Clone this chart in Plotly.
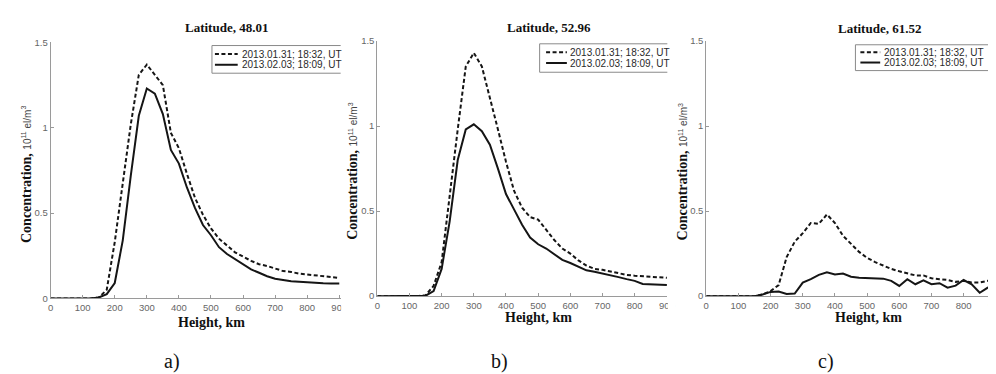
import plotly.graph_objects as go

# ---------------- data ----------------
heights = [0, 25, 50, 75, 100, 125, 150, 175, 200, 225, 250, 275, 300, 325, 350, 375,
           400, 425, 450, 475, 500, 525, 550, 575, 600, 625, 650, 675, 700, 725, 750,
           775, 800, 825, 850, 875, 900]

lat_a_jan31 = [0, 0, 0, 0, 0, 0, 0.005, 0.05, 0.33, 0.68, 1.02, 1.31, 1.37, 1.31, 1.25, 0.97,
               0.88, 0.73, 0.59, 0.49, 0.41, 0.35, 0.31, 0.27, 0.245, 0.22, 0.20, 0.19, 0.175,
               0.16, 0.155, 0.145, 0.14, 0.135, 0.13, 0.125, 0.12]
lat_a_feb03 = [0, 0, 0, 0, 0, 0, 0.005, 0.025, 0.09, 0.34, 0.72, 1.07, 1.23, 1.20, 1.08, 0.87,
               0.79, 0.65, 0.53, 0.43, 0.37, 0.30, 0.26, 0.23, 0.195, 0.17, 0.15, 0.13, 0.115,
               0.107, 0.10, 0.097, 0.093, 0.09, 0.088, 0.087, 0.087]

lat_b_jan31 = [0, 0, 0, 0, 0, 0, 0.005, 0.06, 0.20, 0.60, 0.98, 1.35, 1.43, 1.35, 1.17, 0.98,
               0.79, 0.62, 0.52, 0.465, 0.45, 0.39, 0.33, 0.28, 0.25, 0.21, 0.18, 0.16, 0.155,
               0.145, 0.135, 0.125, 0.12, 0.118, 0.116, 0.112, 0.108]
lat_b_feb03 = [0, 0, 0, 0, 0, 0, 0.003, 0.03, 0.16, 0.44, 0.80, 0.98, 1.01, 0.97, 0.89, 0.75,
               0.60, 0.51, 0.42, 0.345, 0.305, 0.28, 0.245, 0.213, 0.195, 0.175, 0.152, 0.143,
               0.134, 0.123, 0.112, 0.10, 0.09, 0.072, 0.07, 0.068, 0.065]

lat_c_jan31 = [0, 0, 0, 0, 0, 0, 0, 0.01, 0.03, 0.065, 0.23, 0.32, 0.37, 0.43, 0.425, 0.48,
               0.43, 0.355, 0.31, 0.26, 0.225, 0.20, 0.18, 0.16, 0.146, 0.135, 0.122, 0.122,
               0.105, 0.10, 0.095, 0.084, 0.09, 0.08, 0.08, 0.09, 0.08]
lat_c_feb03 = [0, 0, 0, 0, 0, 0, 0, 0.01, 0.025, 0.027, 0.013, 0.015, 0.08, 0.10, 0.125, 0.14,
               0.127, 0.133, 0.114, 0.108, 0.105, 0.105, 0.103, 0.09, 0.06, 0.10, 0.07, 0.093,
               0.07, 0.076, 0.05, 0.062, 0.095, 0.07, 0.02, 0.05, 0.042]

titles = ["Latitude, 48.01", "Latitude, 52.96", "Latitude, 61.52"]
captions = ["a)", "b)", "c)"]
series_names = ["2013.01.31; 18:32, UT", "2013.02.03; 18:09, UT"]
x_ticks = [0, 100, 200, 300, 400, 500, 600, 700, 800, 900]
y_ticks = [0, 0.5, 1, 1.5]
y_tick_text = ["0", "0.5", "1", "1.5"]

panels_data = [(lat_a_jan31, lat_a_feb03), (lat_b_jan31, lat_b_feb03), (lat_c_jan31, lat_c_feb03)]

# ---------------- layout geometry (pixels) ----------------
W, H = 996, 374
def px(x):
    return x / W
def py(y):
    return 1 - y / H

geom = [
    dict(x0=40, x1=333, xmax=904.3, ytop=29.3, ybot=293.0, cut=True,
         title=(218, 14), xt=(203, 318), yt=(15, 165), cap=(163, 358),
         leg=dict(bx0=203, bx1=333, by0=32.5, by1=61, r1=41.3, r2=52.3, s0=206, s1=229, t=231, closed=False)),
    dict(x0=370, x1=663, xmax=901.5, ytop=27.8, ybot=290.7, cut=True,
         title=(543, 14), xt=(533, 313), yt=(345, 162), cap=(493, 358),
         leg=dict(bx0=534, bx1=663, by0=30.7, by1=60, r1=39.5, r2=50.5, s0=540.5, s1=561.5, t=563, closed=False)),
    dict(x0=702.3, x1=996, xmax=903.7, ytop=27.8, ybot=290.7, cut=False,
         title=(877, 15), xt=(866, 313), yt=(678, 163), cap=(823, 358),
         leg=dict(bx0=853, bx1=988, by0=31.7, by1=58.3, r1=39.5, r2=50.0, s0=858, s1=878, t=880, closed=True)),
]

SERIF = "Times New Roman, Liberation Serif, serif"
SANS = "Arial, Liberation Sans, sans-serif"
AXIS_GREY = "#9a9a9a"
TICK_TXT = "#666666"
LINE_COL = "#151515"
DASH = "4px,2.5px"

fig = go.Figure()
annotations = []
shapes = []

for i, (g, (s_jan, s_feb)) in enumerate(zip(geom, panels_data)):
    n = "" if i == 0 else str(i + 1)
    xa, ya = "x" + n, "y" + n
    fig.add_trace(go.Scatter(x=heights, y=s_jan, mode="lines", xaxis=xa, yaxis=ya,
                             name=series_names[0], showlegend=False,
                             line=dict(color=LINE_COL, width=2, dash=DASH)))
    fig.add_trace(go.Scatter(x=heights, y=s_feb, mode="lines", xaxis=xa, yaxis=ya,
                             name=series_names[1], showlegend=False,
                             line=dict(color=LINE_COL, width=2)))
    axcommon = dict(showline=True, linecolor=AXIS_GREY, linewidth=1, ticks="inside",
                    ticklen=3, tickcolor=AXIS_GREY, showgrid=False, zeroline=False,
                    ticklabeloverflow="allow",
                    tickfont=dict(family=SANS, size=9.5, color=TICK_TXT), fixedrange=True)
    fig.update_layout(**{
        "xaxis" + n: dict(domain=[px(g["x0"]), px(g["x1"])], range=[0, g["xmax"]],
                          tickvals=x_ticks, anchor=ya, **axcommon),
        "yaxis" + n: dict(domain=[py(g["ybot"]), py(g["ytop"])], range=[0, 1.5],
                          tickvals=y_ticks, ticktext=y_tick_text, anchor=xa, **axcommon),
    })

    # titles and labels
    annotations.append(dict(text="<b>" + titles[i] + "</b>", x=px(g["title"][0]), y=py(g["title"][1]),
                            xref="paper", yref="paper", showarrow=False, xanchor="center", yanchor="middle",
                            font=dict(family=SERIF, size=13, color="#111")))
    annotations.append(dict(text="<b>Height, km</b>", x=px(g["xt"][0]), y=py(g["xt"][1]),
                            xref="paper", yref="paper", showarrow=False, xanchor="center", yanchor="middle",
                            font=dict(family=SERIF, size=14, color="#111")))
    annotations.append(dict(text="<b>Concentration,</b> <span style='font-family:Arial, Liberation Sans, sans-serif;font-size:10px;font-weight:normal;color:#444'>10<sup>11</sup> el/m<sup>3</sup></span>",
                            x=px(g["yt"][0]), y=py(g["yt"][1]), textangle=-90,
                            xref="paper", yref="paper", showarrow=False, xanchor="center", yanchor="middle",
                            font=dict(family=SERIF, size=14, color="#111")))
    annotations.append(dict(text=captions[i], x=px(g["cap"][0]), y=py(g["cap"][1]),
                            xref="paper", yref="paper", showarrow=False, xanchor="center", yanchor="middle",
                            font=dict(family=SERIF, size=20, color="#111")))

    # legend (manual)
    L = g["leg"]
    if L["closed"]:
        path = "M {a},{b} L {c},{b} L {c},{d} L {a},{d} Z".format(
            a=px(L["bx0"]), b=py(L["by0"]), c=px(L["bx1"]), d=py(L["by1"]))
    else:
        path = "M {c},{b} L {a},{b} L {a},{d} L {c},{d}".format(
            a=px(L["bx0"]), b=py(L["by0"]), c=px(L["bx1"]), d=py(L["by1"]))
    shapes.append(dict(type="path", path=path, xref="paper", yref="paper",
                       line=dict(color="#8a8a8a", width=1), layer="above"))
    for row, dash in ((L["r1"], DASH), (L["r2"], "solid")):
        shapes.append(dict(type="line", x0=px(L["s0"]), x1=px(L["s1"]), y0=py(row), y1=py(row),
                           xref="paper", yref="paper", line=dict(color=LINE_COL, width=2, dash=dash),
                           layer="above"))
    for row, name in ((L["r1"], series_names[0]), (L["r2"], series_names[1])):
        annotations.append(dict(text=name, x=px(L["t"]), y=py(row), xref="paper", yref="paper",
                                showarrow=False, xanchor="left", yanchor="middle",
                                font=dict(family=SANS, size=10, color="#2a2a2a")))

    # cropped edge: hide the overflowing part of the last tick label
    if g["cut"]:
        shapes.append(dict(type="rect", x0=px(g["x1"] + 0.5), x1=px(g["x1"] + 8), y0=py(g["ybot"] + 1.5),
                           y1=py(g["ybot"] + 18), xref="paper", yref="paper",
                           fillcolor="white", line=dict(width=0), layer="above"))

fig.update_layout(width=W, height=H, margin=dict(l=0, r=0, t=0, b=0),
                  paper_bgcolor="white", plot_bgcolor="white", showlegend=False,
                  annotations=annotations, shapes=shapes)

fig.write_html("out.html", config={"displayModeBar": False})
